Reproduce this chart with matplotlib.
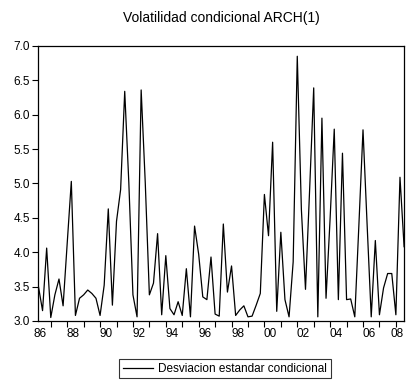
import numpy as np
import matplotlib
matplotlib.use("Agg")
import matplotlib.pyplot as plt

plt.rcParams['font.family'] = ['Liberation Sans', 'DejaVu Sans']

# quarterly conditional std. deviation, 1986Q1 - 2008Q2
sigma = [3.50, 3.15, 4.06, 3.05, 3.38, 3.61, 3.22, 4.13, 5.03, 3.08,
         3.33, 3.38, 3.45, 3.40, 3.33, 3.08, 3.52, 4.63, 3.23, 4.45,
         4.91, 6.34, 5.01, 3.38, 3.06, 6.36, 5.01, 3.38, 3.55, 4.27,
         3.09, 3.95, 3.18, 3.09, 3.28, 3.08, 3.76, 3.06, 4.38, 3.97,
         3.35, 3.31, 3.93, 3.10, 3.07, 4.41, 3.42, 3.80, 3.08, 3.16,
         3.22, 3.06, 3.07, 3.23, 3.40, 4.84, 4.24, 5.60, 3.14, 4.29,
         3.31, 3.06, 3.86, 6.85, 4.62, 3.46, 4.90, 6.39, 3.06, 5.95,
         3.33, 4.50, 5.79, 3.31, 5.44, 3.31, 3.32, 3.06, 4.40, 5.78,
         4.40, 3.06, 4.17, 3.09, 3.48, 3.69, 3.69, 3.09, 5.09, 4.08]
year_labels = ['86', '88', '90', '92', '94', '96', '98',
               '00', '02', '04', '06', '08']
y_ticks = [3.0, 3.5, 4.0, 4.5, 5.0, 5.5, 6.0, 6.5, 7.0]

x = np.arange(len(sigma))
n = len(sigma)

fig = plt.figure(figsize=(4.09, 3.83), dpi=100)
ax = fig.add_axes([0.094, 0.162, 0.894, 0.718])

line, = ax.plot(x, sigma, color='black', linewidth=0.9)

ax.set_xlim(0, n - 1)
ax.set_ylim(3.0, 7.0)
ax.set_yticks(y_ticks)
ax.set_yticklabels([f"{v:.1f}" for v in y_ticks], fontsize=8.5)

# tick marks at year ends, labels every other year
ax.set_xticks(np.arange(3, n, 4))
ax.set_xticklabels([])
label_pos = list(np.arange(0.5, n, 8)[:len(year_labels)])
label_pos[-1] = n - 1  # last label kept inside the frame
ax.set_xticks(label_pos, minor=True)
ax.set_xticklabels(year_labels, minor=True, fontsize=8.5)
ax.get_xticklabels(minor=True)[-1].set_horizontalalignment('right')
ax.tick_params(axis='x', which='major', direction='out', length=4, width=0.8)
ax.tick_params(axis='x', which='minor', length=0, pad=5)
ax.tick_params(axis='y', direction='out', length=4, width=0.8, pad=2)

for sp in ax.spines.values():
    sp.set_linewidth(0.9)

ax.set_title('Volatilidad condicional ARCH(1)', fontsize=10, pad=17)

leg = fig.legend([line], ['Desviacion estandar condicional'], loc='center',
                 bbox_to_anchor=(0.55, 0.037), fontsize=8.5, frameon=True,
                 fancybox=False, edgecolor='black', handlelength=2.6,
                 borderpad=0.3, handletextpad=0.4)
leg.get_frame().set_linewidth(0.8)

fig.savefig('out.png', dpi=100)
